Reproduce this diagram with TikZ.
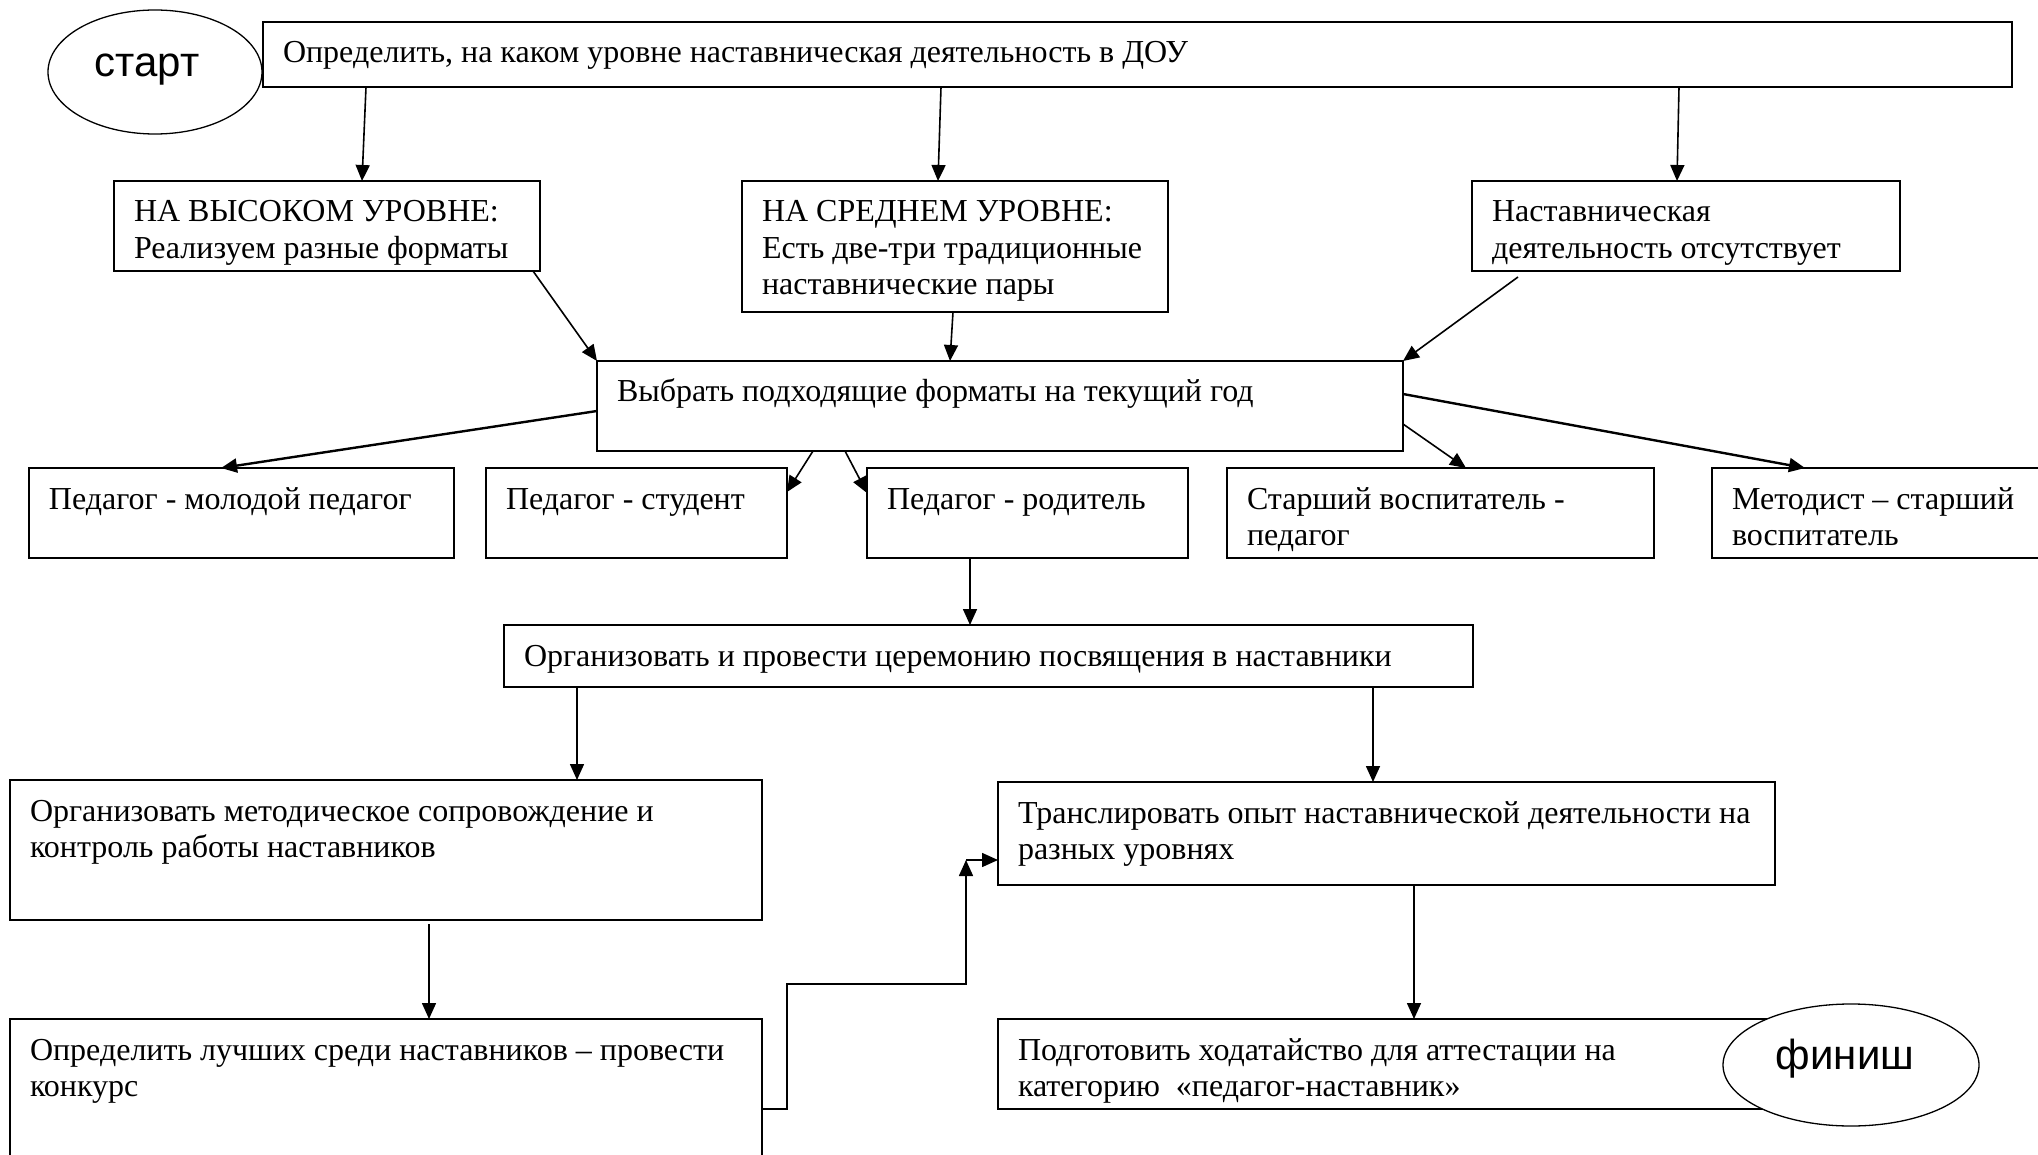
\documentclass[tikz,border=0pt]{standalone}
\usepackage{fontspec}
\setmainfont{Liberation Serif}
\newfontfamily\sansf{Liberation Sans}
\usetikzlibrary{arrows.meta,shapes.geometric,calc}
\newcommand\bxc[3]{\parbox[c][#2][t]{#1}{\raggedright\leftskip=20pt\relax\rule{0pt}{41pt}#3}}
\newcommand\LL[1]{\mbox{#1}}
\begin{document}
\begin{tikzpicture}[x=1pt,y=-1pt,
  box/.style={draw,line width=1.6pt,inner sep=0pt,outer sep=0pt,anchor=north west,font=\fontsize{32}{36.5}\selectfont},
  oval/.style={ellipse,draw,line width=1.3pt,fill=white,inner sep=0pt},
  ovaltext/.style={font=\sansf\fontsize{42}{48}\selectfont,inner sep=0pt,anchor=base},
  arr/.style={-{Triangle[length=16pt,width=14pt]},line width=1.6pt},
  arrb/.style={arr,line width=2.4pt}]
\fill[white] (0,0) rectangle (2038,1155);
\useasboundingbox (0,0) rectangle (2038,1155);
\clip (0,0) rectangle (2038,1155);

% boxes
\node[box] (top) at (263,22) {\bxc{1749pt}{65pt}{\LL{Определить, на каком уровне наставническая деятельность в ДОУ}}};
\node[oval,minimum width=214pt,minimum height=124pt] (start) at (155,72) {};
\node[ovaltext] (startt) at (147,77) {старт};

\node[box] (high) at (114,181) {\bxc{426pt}{90pt}{\LL{НА ВЫСОКОМ УРОВНЕ:}\\\LL{Реализуем разные форматы}}};
\node[box] (mid) at (742,181) {\bxc{426pt}{131pt}{\LL{НА СРЕДНЕМ УРОВНЕ:}\\\LL{Есть две-три традиционные}\\\LL{наставнические пары}}};
\node[box] (none) at (1472,181) {\bxc{428pt}{90pt}{\LL{Наставническая}\\\LL{деятельность отсутствует}}};

\node[box] (choose) at (597,361) {\bxc{806pt}{90pt}{\LL{Выбрать подходящие форматы на текущий год}}};

\node[box] (young) at (29,468) {\bxc{425pt}{90pt}{\LL{Педагог - молодой педагог}}};
\node[box] (student) at (486,468) {\bxc{301pt}{90pt}{\LL{Педагог - студент}}};
\node[box] (parent) at (867,468) {\bxc{321pt}{90pt}{\LL{Педагог - родитель}}};
\node[box] (senior) at (1227,468) {\bxc{427pt}{90pt}{\LL{Старший воспитатель -}\\\LL{педагог}}};
\node[box] (method) at (1712,468) {\bxc{340pt}{90pt}{\LL{Методист – старший}\\\LL{воспитатель}}};

\node[box] (cer) at (504,625) {\bxc{969pt}{62pt}{\LL{Организовать и провести церемонию посвящения в наставники}}};

\node[box] (meth) at (10,780) {\bxc{752pt}{140pt}{\LL{Организовать методическое сопровождение и}\\\LL{контроль работы наставников}}};
\node[box] (trans) at (998,782) {\bxc{777pt}{103pt}{\LL{Транслировать опыт наставнической деятельности на}\\\LL{разных уровнях}}};

\node[box] (best) at (10,1019) {\bxc{752pt}{155pt}{\LL{Определить лучших среди наставников – провести}\\\LL{конкурс}}};
\node[box] (prep) at (998,1019) {\bxc{792pt}{90pt}{\LL{Подготовить ходатайство для аттестации на}\\\LL{категорию\ \ «педагог-наставник»}}};
\node[oval,minimum width=256pt,minimum height=122pt] (finish) at (1851,1065) {};
\node[ovaltext] (finisht) at (1845,1069) {финиш};

% connectors
\draw[arr] (top.south -| 366,0) -- (high.north -| 362,0);
\draw[arr] (top.south -| 941,0) -- (mid.north -| 938,0);
\draw[arr] (top.south -| 1679,0) -- (none.north -| 1677,0);

\draw[arr] (high.south -| 533,0) -- (choose.north west);
\draw[arr] (mid.south -| 953,0) -- (choose.north -| 950,0);
\draw[arr] ($(none.south west)+(46,6)$) -- (choose.north east);

\draw[arrb] ($(choose.north west)+(0,50)$) -- (young.north -| 221,0);
\draw[arr] (choose.south -| 813,0) -- ($(student.north east)+(0,24)$);
\draw[arr] (choose.south -| 845,0) -- ($(parent.north west)+(0,25)$);
\draw[arr] ($(choose.north east)+(0,63)$) -- (senior.north -| 1466,0);
\draw[arrb] ($(choose.north east)+(0,33)$) -- (method.north -| 1805,0);

\draw[arr] (parent.south -| 970,0) -- (cer.north -| 970,0);
\draw[arr] (cer.south -| 577,0) -- (meth.north -| 577,0);
\draw[arr] (cer.south -| 1373,0) -- (trans.north -| 1373,0);
\draw[arr] ($(meth.south west)+(419,4)$) -- (best.north -| 429,0);
\draw[arr] (trans.south -| 1414,0) -- (prep.north -| 1414,0);

\coordinate (elb) at (966,860);
\draw[arr] ($(best.north east)+(0,90)$) -- ++(25,0) -- ++(0,-125) -| (elb);
\draw[arr] (elb) -- (trans.west |- elb);
\end{tikzpicture}
\end{document}
